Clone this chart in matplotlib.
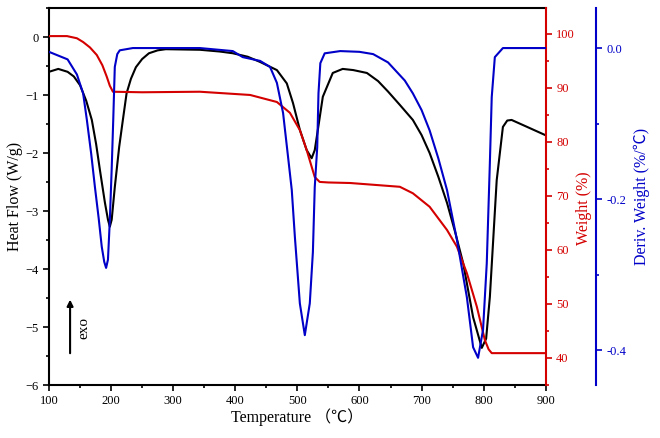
"""
DSC / TGA / DTG overlay: heat flow, weight loss and derivative weight
against temperature, three y axes sharing one temperature axis.
"""
import matplotlib
matplotlib.use("Agg")
import matplotlib.pyplot as plt
from matplotlib.ticker import MultipleLocator

SERIF = ["Liberation Serif", "Noto Sans CJK SC", "DejaVu Sans"]
RED = "#d40000"
BLUE = "#0000c8"

# ── Data ──────────────────────────────────────────────────────────────────────

hf_temp = [100, 115, 130, 140, 150, 160, 169, 176, 182, 190, 195, 198, 201,
           206, 213, 219, 225, 232, 240, 250, 261, 275, 288, 343, 375, 396,
           420, 440, 467, 483, 493, 504, 515, 523, 528, 533, 541, 557, 573,
           590, 612, 630, 646, 665, 686, 700, 713, 727, 741, 754, 767, 783,
           797, 804, 810, 821, 831, 838, 845, 870, 899]
heat_flow = [-0.60, -0.55, -0.60, -0.68, -0.83, -1.10, -1.43, -1.85, -2.29,
             -2.85, -3.15, -3.27, -3.15, -2.59, -1.90, -1.43, -0.97, -0.72,
             -0.52, -0.38, -0.28, -0.23, -0.21, -0.22, -0.25, -0.28, -0.34,
             -0.43, -0.57, -0.80, -1.14, -1.60, -1.95, -2.09, -1.95, -1.60,
             -1.03, -0.62, -0.55, -0.57, -0.62, -0.76, -0.94, -1.17, -1.43,
             -1.69, -2.00, -2.41, -2.86, -3.36, -3.90, -4.83, -5.36, -5.20,
             -4.48, -2.47, -1.55, -1.44, -1.43, -1.55, -1.69]

wt_temp = [100, 129, 145, 155, 166, 177, 186, 193, 198, 203, 250, 343, 424,
           467, 488, 504, 515, 522, 528, 536, 550, 585, 665, 686, 713, 741,
           757, 773, 789, 802, 808, 813, 850, 899]
weight = [99.6, 99.6, 99.2, 98.5, 97.5, 96.1, 94.2, 92.1, 90.4, 89.3, 89.2,
          89.3, 88.7, 87.4, 85.4, 82.2, 78.5, 75.8, 73.5, 72.6, 72.5, 72.4,
          71.7, 70.5, 68.0, 63.7, 60.6, 55.7, 49.5, 43.3, 41.6, 40.9, 40.9,
          40.9]

dtg_temp = [100, 130, 145, 155, 161, 168, 174, 180, 185, 189, 192, 195, 198,
            201, 203.5, 206, 210, 214, 235, 343, 396, 412, 440, 456, 467, 477,
            485, 491, 496, 504, 512, 520, 525, 528, 532, 534, 537, 544, 569,
            600, 622, 646, 673, 686, 700, 713, 727, 741, 757, 773, 783, 791,
            799, 805, 810, 813, 818, 831, 899]
deriv = [-0.005, -0.015, -0.035, -0.06, -0.095, -0.14, -0.184, -0.225, -0.263,
         -0.283, -0.291, -0.28, -0.228, -0.16, -0.095, -0.025, -0.008, -0.003,
         0.0, 0.0, -0.004, -0.012, -0.017, -0.025, -0.046, -0.086, -0.144,
         -0.188, -0.25, -0.338, -0.38, -0.338, -0.27, -0.184, -0.131, -0.06,
         -0.02, -0.007, -0.004, -0.005, -0.008, -0.019, -0.043, -0.06, -0.082,
         -0.109, -0.146, -0.188, -0.254, -0.33, -0.396, -0.41, -0.373,
         -0.285, -0.152, -0.065, -0.012, 0.0, 0.0]

# ── Plot ──────────────────────────────────────────────────────────────────────

plt.rcParams["font.family"] = SERIF
plt.rcParams["font.size"] = 9

fig = plt.figure(figsize=(6.6, 4.38), dpi=100)
ax = fig.add_axes([0.0742, 0.121, 0.7527, 0.8607])
ax_wt = ax.twinx()
ax_dtg = ax.twinx()

ax.plot(hf_temp, heat_flow, color="black", lw=1.5)
ax_wt.plot(wt_temp, weight, color=RED, lw=1.5)
ax_dtg.plot(dtg_temp, deriv, color=BLUE, lw=1.5)

ax.set_xlim(100, 900)
ax.set_ylim(-6, 0.5)
ax.xaxis.set_major_locator(MultipleLocator(100))
ax.xaxis.set_minor_locator(MultipleLocator(50))
ax.yaxis.set_major_locator(MultipleLocator(1))
ax.yaxis.set_minor_locator(MultipleLocator(0.5))
ax.set_xlabel("Temperature （℃）", fontsize=11.5, labelpad=1)
ax.set_ylabel("Heat Flow (W/g)", fontsize=11.5)
ax.yaxis.set_label_coords(-0.052, 0.5)
ax.spines["right"].set_visible(False)
for s in ("left", "bottom", "top"):
    ax.spines[s].set_linewidth(1.5)
ax.tick_params(which="major", length=4, width=1.2)
ax.tick_params(which="minor", length=2.5, width=1.2)
ax.tick_params(axis="x", which="both", top=False)

ax_wt.set_ylim(35.0, 104.8)
ax_wt.yaxis.set_major_locator(MultipleLocator(10))
ax_wt.yaxis.set_minor_locator(MultipleLocator(5))
ax_wt.set_ylabel("Weight (%)", color=RED, fontsize=11.5)
ax_wt.yaxis.set_label_coords(1.060, 0.47)
ax_wt.spines["right"].set_color(RED)
ax_wt.spines["right"].set_linewidth(1.5)
for s in ("left", "bottom", "top"):
    ax_wt.spines[s].set_visible(False)
ax_wt.tick_params(which="both", colors=RED, width=1.2)
ax_wt.tick_params(which="major", length=4)
ax_wt.tick_params(which="minor", length=2.5)

ax_dtg.set_ylim(-0.446, 0.053)
ax_dtg.yaxis.set_major_locator(MultipleLocator(0.2))
ax_dtg.yaxis.set_minor_locator(MultipleLocator(0.1))
ax_dtg.yaxis.set_major_formatter(lambda v, pos: f"{v:.1f}".replace("-0.0", "0.0"))
ax_dtg.set_ylabel("Deriv. Weight (%/℃)", color=BLUE, fontsize=11.5)
ax_dtg.yaxis.set_label_coords(1.177, 0.5)
ax_dtg.spines["right"].set_position(("outward", 36))
ax_dtg.spines["right"].set_color(BLUE)
ax_dtg.spines["right"].set_linewidth(1.5)
for s in ("left", "bottom", "top"):
    ax_dtg.spines[s].set_visible(False)
ax_dtg.tick_params(which="both", colors=BLUE, width=1.2)
ax_dtg.tick_params(which="major", length=4)
ax_dtg.tick_params(which="minor", length=2.5)

# exo arrow
ax.annotate("", xy=(134, -4.48), xytext=(134, -5.5),
            arrowprops=dict(arrowstyle="-|>", color="black", lw=1.5,
                            mutation_scale=9))
ax.text(156, -5.02, "exo", rotation=90, ha="center", va="center", fontsize=11)

fig.savefig("out.png", dpi=100)
